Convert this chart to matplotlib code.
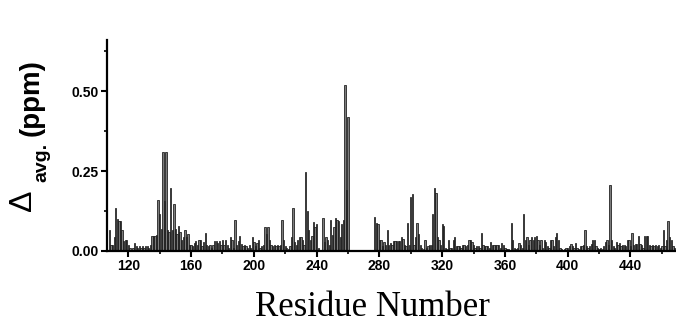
import numpy as np
import matplotlib.pyplot as plt
from matplotlib.ticker import MultipleLocator

# residues 108-260
start_a = 108
delta_a = [
    0.065, 0.02, 0.02, 0.044, 0.135, 0.10, 0.095, 0.095, 0.065, 0.03,
    0.035, 0.035, 0.02, 0.01, 0.0, 0.01, 0.026, 0.015, 0.01, 0.015,
    0.01, 0.015, 0.01, 0.015, 0.015, 0.01, 0.02, 0.046, 0.046, 0.046,
    0.05, 0.158, 0.117, 0.07, 0.31, 0.156, 0.31, 0.065, 0.06, 0.198,
    0.067, 0.148, 0.07, 0.054, 0.077, 0.06, 0.033, 0.044, 0.067, 0.044,
    0.054, 0.02, 0.02, 0.015, 0.025, 0.03, 0.02, 0.035, 0.035, 0.015,
    0.028, 0.056, 0.02, 0.015, 0.02, 0.01, 0.02, 0.03, 0.03, 0.025,
    0.03, 0.02, 0.035, 0.02, 0.033, 0.02, 0.01, 0.044, 0.035, 0.01,
    0.098, 0.02, 0.03, 0.046, 0.023, 0.015, 0.02, 0.015, 0.01, 0.018,
    0.01, 0.044, 0.028, 0.015, 0.025, 0.035, 0.01, 0.015, 0.02, 0.075,
    0.054, 0.075, 0.033, 0.02, 0.015, 0.02, 0.015, 0.02, 0.015, 0.02,
    0.096, 0.035, 0.015, 0.01, 0.005, 0.017, 0.044, 0.135, 0.028, 0.02,
    0.033, 0.044, 0.044, 0.033, 0.02, 0.247, 0.125, 0.065, 0.033, 0.046,
    0.09, 0.075, 0.085, 0.01, 0.0, 0.0, 0.104, 0.028, 0.044, 0.033,
    0.02, 0.096, 0.049, 0.075, 0.104, 0.098, 0.094, 0.044, 0.085, 0.096,
    0.52, 0.19, 0.42,
]

# residues 277-468
start_b = 277
delta_b = [
    0.106, 0.088, 0.085, 0.033, 0.035, 0.015, 0.028, 0.02, 0.067, 0.02,
    0.025, 0.02, 0.03, 0.03, 0.03, 0.03, 0.03, 0.044, 0.037, 0.02,
    0.015, 0.088, 0.02, 0.17, 0.177, 0.02, 0.044, 0.088, 0.054, 0.02,
    0.01, 0.005, 0.035, 0.01, 0.015, 0.02, 0.02, 0.117, 0.198, 0.18,
    0.044, 0.033, 0.02, 0.085, 0.077, 0.01, 0.005, 0.035, 0.01, 0.01,
    0.035, 0.044, 0.015, 0.015, 0.015, 0.01, 0.02, 0.02, 0.015, 0.02,
    0.035, 0.035, 0.028, 0.02, 0.01, 0.015, 0.015, 0.01, 0.056, 0.02,
    0.015, 0.015, 0.015, 0.01, 0.028, 0.02, 0.02, 0.02, 0.02, 0.02,
    0.01, 0.025, 0.02, 0.01, 0.005, 0.005, 0.0, 0.088, 0.035, 0.01,
    0.005, 0.01, 0.025, 0.02, 0.01, 0.117, 0.033, 0.044, 0.02, 0.035,
    0.044, 0.033, 0.044, 0.046, 0.033, 0.02, 0.033, 0.01, 0.035, 0.028,
    0.015, 0.01, 0.035, 0.033, 0.015, 0.044, 0.056, 0.033, 0.01, 0.005,
    0.0, 0.005, 0.01, 0.01, 0.015, 0.023, 0.015, 0.01, 0.025, 0.01,
    0.005, 0.015, 0.015, 0.02, 0.067, 0.015, 0.01, 0.015, 0.023, 0.033,
    0.035, 0.015, 0.01, 0.005, 0.01, 0.005, 0.015, 0.028, 0.033, 0.02,
    0.207, 0.033, 0.015, 0.01, 0.028, 0.02, 0.025, 0.015, 0.02, 0.02,
    0.017, 0.033, 0.033, 0.015, 0.056, 0.02, 0.023, 0.023, 0.046, 0.023,
    0.02, 0.01, 0.046, 0.046, 0.046, 0.02, 0.015, 0.02, 0.015, 0.02,
    0.015, 0.02, 0.01, 0.015, 0.067, 0.015, 0.033, 0.095, 0.044, 0.033,
    0.015, 0.01,
]

x_ticks = [120, 160, 200, 240, 280, 320, 360, 400, 440]
y_ticks = [0.00, 0.25, 0.50]

res_a = np.arange(start_a, start_a + len(delta_a))
res_b = np.arange(start_b, start_b + len(delta_b))

W, H = 676, 329
fig = plt.figure(figsize=(W / 100, H / 100), dpi=100)
ax = fig.add_axes([107/W, 1 - 251/H, 1 - 107/W, 211/H])

for r, d in [(res_a, delta_a), (res_b, delta_b)]:
    ax.bar(r, d, width=0.85, color='#7c7c7c', edgecolor='#151515', linewidth=0.55)

ax.set_xlim(106.4, 469)
ax.set_ylim(0, 0.66)
ax.set_xticks(x_ticks)
ax.set_xticklabels([str(t) for t in x_ticks])
ax.set_yticks(y_ticks)
ax.set_yticklabels(['%.2f' % t for t in y_ticks])
ax.xaxis.set_minor_locator(MultipleLocator(20))
ax.yaxis.set_minor_locator(MultipleLocator(0.125))

for s in ['top', 'right']:
    ax.spines[s].set_visible(False)
for s in ['left', 'bottom']:
    ax.spines[s].set_linewidth(1.6)

ax.tick_params(which='major', direction='out', length=4, width=1.5, pad=2)
ax.tick_params(which='minor', direction='out', length=2.5, width=1.2)
for lab in ax.get_xticklabels() + ax.get_yticklabels():
    lab.set_family('Liberation Sans')
    lab.set_fontweight('bold')
    lab.set_fontsize(10)

ax.set_xlabel('Residue Number', family='Liberation Serif', fontsize=25, va='top')
ax.xaxis.set_label_coords(0.466, -0.19)

# y label built from three pieces: delta, subscript, unit
fig.text(23/W, 1 - 200/H, '\u0394', rotation=90, ha='center', va='center',
         family='Liberation Sans', fontsize=23)
fig.text(42/W, 1 - 162/H, 'avg.', rotation=90, ha='center', va='center',
         family='Liberation Sans', fontweight='bold', fontsize=14)
fig.text(32/W, 1 - 98/H, '(ppm)', rotation=90, ha='center', va='center',
         family='Liberation Sans', fontweight='bold', fontsize=20)

fig.savefig('out.png', dpi=100)
